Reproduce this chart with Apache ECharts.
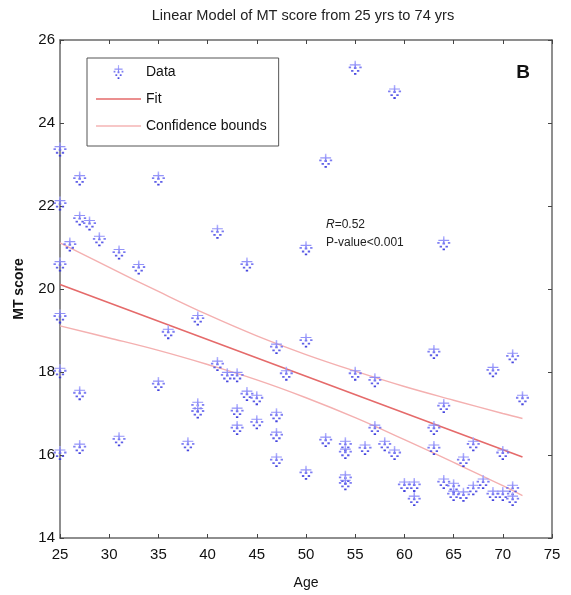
<!DOCTYPE html>
<html>
<head>
<meta charset="utf-8">
<script src="https://cdn.jsdelivr.net/npm/echarts@6/dist/echarts.min.js"></script>
<style>
html,body{margin:0;padding:0;background:#fff;}
#chart{width:571px;height:595px;}
</style>
</head>
<body>
<div id="chart"></div>
<script>
// ---- data ----
var ages   = [25,25,25,25,25,25,26,27,27,27,27,28,29,31,31,33,35,35,36,38,39,39,39,41,41,42,43,43,43,44,44,45,45,47,47,47,47,48,50,50,50,52,52,54,54,54,54,55,55,56,57,57,58,59,59,60,61,61,63,63,63,64,64,64,65,65,66,66,67,67,68,69,69,70,70,71,71,71,72];
var scores = [23.36,22.06,20.59,19.34,18.02,16.05,21.07,22.66,21.70,17.49,16.19,21.58,21.20,20.88,16.38,20.52,22.66,17.71,18.96,16.26,19.29,17.20,17.05,21.38,18.19,17.92,17.92,17.06,16.65,20.59,17.47,17.37,16.79,18.60,16.96,16.48,15.88,17.96,20.98,18.76,15.57,23.09,16.36,16.26,16.07,15.45,15.32,25.33,17.96,16.17,17.80,16.65,16.26,24.75,16.05,15.28,15.28,14.94,18.48,16.65,16.17,21.10,17.18,15.35,15.25,15.06,15.88,15.04,16.26,15.20,15.35,18.04,15.06,16.05,15.06,18.38,15.20,14.94,17.37];

var fitAges   = [25, 72];
var fitValues = [20.11, 15.95];

var ciAges  = [25, 30, 35, 40, 45, 50, 55, 60, 65, 70, 72];
var ciUpper = [21.11, 20.52, 19.94, 19.38, 18.87, 18.42, 18.02, 17.65, 17.32, 17.00, 16.88];
var ciLower = [19.11, 18.82, 18.52, 18.18, 17.81, 17.38, 16.90, 16.37, 15.82, 15.26, 15.02];

var xTicks = {min: 25, max: 75, interval: 5};
var yTicks = {min: 14, max: 26, interval: 2};

function pairs(xs, ys){ return xs.map(function(x,i){ return [x, ys[i]]; }); }

var markerPath = 'path://M9.3,0H10.7V10H9.3Z M5,4.3H15V5.7H5Z M8.8,7.6h2.4v2.4h-2.4Z M4,7h2.2v2.2h-2.2Z M13.8,7h2.2v2.2h-2.2Z M6.2,11.4h2.2v2.2h-2.2Z M11.6,11.4h2.2v2.2h-2.2Z M8.9,15h2.2v2.2h-2.2Z';
var lineIcon = 'path://M0,0H45V1.6H0Z';

var FONT = '"Liberation Sans", Arial, sans-serif';
var chart = echarts.init(document.getElementById('chart'), null, {renderer:'canvas'});

var axisLine = {show:true, lineStyle:{color:'#6a6a6a', width:1.5}};
var tick = {show:true, inside:true, length:4, lineStyle:{color:'#444', width:1}};

var markerFill = new echarts.graphic.LinearGradient(0,0,0,1,[{offset:0,color:'#b0b0ff'},{offset:0.4,color:'#7878f5'},{offset:1,color:'#2a2ad8'}]);

var option = {
  backgroundColor: '#fff',
  animation: false,
  grid: {left: 60, right: 19, top: 40, bottom: 56, containLabel: false},
  xAxis: [
    {type:'value', position:'bottom', min:xTicks.min, max:xTicks.max, interval:xTicks.interval,
     axisLine:axisLine, axisTick:tick, splitLine:{show:false},
     axisLabel:{color:'#111', fontSize:15, fontFamily:FONT, margin:9},
     name:'Age', nameLocation:'middle', nameGap:38,
     nameTextStyle:{color:'#111', fontSize:14, fontFamily:FONT}},
    {type:'value', position:'top', min:xTicks.min, max:xTicks.max, interval:xTicks.interval,
     axisLine:axisLine, axisTick:tick, splitLine:{show:false}, axisLabel:{show:false}}
  ],
  yAxis: [
    {type:'value', position:'left', min:yTicks.min, max:yTicks.max, interval:yTicks.interval,
     axisLine:axisLine, axisTick:tick, splitLine:{show:false},
     axisLabel:{color:'#111', fontSize:15, fontFamily:FONT, margin:5},
     name:'MT score', nameLocation:'middle', nameGap:34,
     nameTextStyle:{color:'#111', fontSize:14, fontWeight:'bold', fontFamily:FONT}},
    {type:'value', position:'right', min:yTicks.min, max:yTicks.max, interval:yTicks.interval,
     axisLine:axisLine, axisTick:tick, splitLine:{show:false}, axisLabel:{show:false}}
  ],
  legend: {
    orient:'vertical', left:87, top:58,
    padding:[7, 12, 13, 9], itemGap:13, itemWidth:45, itemHeight:14,
    borderColor:'#555', borderWidth:1, backgroundColor:'#fff',
    textStyle:{color:'#111', fontSize:14, fontFamily:FONT, lineHeight:14},
    data:[{name:'Data', icon: markerPath},
          {name:'Fit', icon: lineIcon, itemStyle:{color:'#e56a6a'}},
          {name:'Confidence bounds', icon: lineIcon, itemStyle:{color:'#f4b4b4'}}]
  },
  series: [
    {name:'Data', type:'scatter', data:pairs(ages, scores),
     symbol: markerPath, symbolSize:[13,14],
     itemStyle:{color: markerFill, opacity:0.9},
     z:3},
    {name:'Fit', type:'line', data:pairs(fitAges, fitValues), showSymbol:false, symbol:'none',
     lineStyle:{color:'#e56a6a', width:1.6}, itemStyle:{color:'#e56a6a'}, z:2},
    {name:'Confidence bounds', type:'line', data:pairs(ciAges, ciUpper), showSymbol:false, symbol:'none', smooth:0.4,
     lineStyle:{color:'#f4b0b0', width:1.4}, itemStyle:{color:'#f4b0b0'}, z:2},
    {name:'Confidence bounds', type:'line', data:pairs(ciAges, ciLower), showSymbol:false, symbol:'none', smooth:0.4,
     lineStyle:{color:'#f4b0b0', width:1.4}, itemStyle:{color:'#f4b0b0'}, z:2}
  ],
  graphic: [
    {type:'text', x:303, y:16, style:{text:'Linear Model of MT score from 25 yrs to 74 yrs', fill:'#222', font:'14.6px '+FONT, align:'center', verticalAlign:'middle'}},
    {type:'text', x:523, y:73, style:{text:'B', fill:'#111', font:'bold 19px '+FONT, align:'center', verticalAlign:'middle'}},
    {type:'text', x:326, y:225, style:{text:'{i|R}=0.52', fill:'#222', font:'12px '+FONT, verticalAlign:'middle',
      rich:{i:{fontStyle:'italic', fontSize:12, fontFamily:FONT, fill:'#222'}}}},
    {type:'text', x:326, y:243, style:{text:'P-value<0.001', fill:'#222', font:'12px '+FONT, verticalAlign:'middle'}}
  ]
};
chart.setOption(option);
</script>
</body>
</html>
